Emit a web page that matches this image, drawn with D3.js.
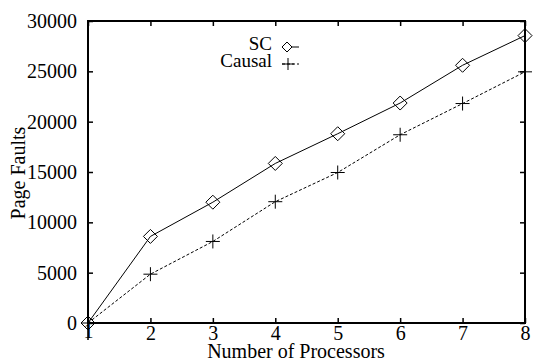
<!DOCTYPE html>
<html><head><meta charset="utf-8">
<script src="https://cdn.jsdelivr.net/npm/d3@7"></script>
<style>body{margin:0;background:#fff}svg{display:block}</style>
</head><body>
<svg id="c" width="534" height="363"></svg>
<script>
const processors = [1,2,3,4,5,6,7,8];
const scValues = [0,8600,12000,15850,18800,21850,25600,28550];
const causalValues = [0,4850,8100,12050,14950,18700,21800,24950];
const yTicks = [0,5000,10000,15000,20000,25000,30000];
const seriesNames = ["SC","Causal"];

const FF = "'Liberation Serif', 'Times New Roman', Times, 'DejaVu Serif', serif";
const svg = d3.select("#c");
const L=88,R=525,T=21,B=323;
const x = d3.scaleLinear().domain([1,8]).range([L,R]);
const y = d3.scaleLinear().domain([0,30000]).range([B,T]);
const fs = 20;

const gx = svg.append("g").attr("transform",`translate(0,${B})`)
  .call(d3.axisBottom(x).tickValues(processors).tickSize(-5).tickPadding(7).tickFormat(d3.format("d")));
const gxt = svg.append("g").attr("transform",`translate(0,${T})`)
  .call(d3.axisTop(x).tickValues(processors).tickSize(-5).tickFormat(""));
const gy = svg.append("g").attr("transform",`translate(${L},0)`)
  .call(d3.axisLeft(y).tickValues(yTicks).tickSize(-5).tickPadding(11).tickFormat(d3.format("d")));
const gyr = svg.append("g").attr("transform",`translate(${R},0)`)
  .call(d3.axisRight(y).tickValues(yTicks).tickSize(-5).tickFormat(""));
[gx,gxt,gy,gyr].forEach(g=>{
  g.attr("font-family",null).attr("font-size",null);
  g.select(".domain").remove();
  g.selectAll("line").attr("stroke","#000").attr("stroke-width",1.5);
  g.selectAll("text").attr("fill","#000").style("font-family",FF).style("font-size",fs+"px");
});
svg.append("line").attr("x1",x(1)).attr("x2",x(1)).attr("y1",B).attr("y2",B+17).attr("stroke","#000").attr("stroke-width",1.5);
gx.selectAll(".tick text").attr("dy","0.5em");
gx.selectAll(".tick").filter(d=>d===1).select("text").attr("dy","0.4em");

svg.append("rect").attr("x",L).attr("y",T).attr("width",R-L).attr("height",B-T)
  .attr("fill","none").attr("stroke","#000").attr("stroke-width",2);

const line = d3.line().x((d,i)=>x(processors[i])).y(d=>y(d));
svg.append("path").datum(scValues).attr("d",line).attr("fill","none").attr("stroke","#000").attr("stroke-width",1);
svg.append("path").datum(causalValues).attr("d",line).attr("fill","none").attr("stroke","#000").attr("stroke-width",1).attr("stroke-dasharray","3,2");

const diamond = (cx,cy,s)=>`M${cx},${cy-s}L${cx+s},${cy}L${cx},${cy+s}L${cx-s},${cy}Z`;
svg.selectAll(".sc").data(scValues).enter().append("path")
  .attr("d",(d,i)=>diamond(x(processors[i]),y(d),7)).attr("fill","none").attr("stroke","#000").attr("stroke-width",1);
const cross = (cx,cy,s)=>`M${cx-s},${cy}L${cx+s},${cy}M${cx},${cy-s}L${cx},${cy+s}`;
svg.selectAll(".ca").data(causalValues).enter().append("path")
  .attr("d",(d,i)=>cross(x(processors[i]),y(d),7)).attr("fill","none").attr("stroke","#000").attr("stroke-width",1);

const txt = (xx,yy,s,anchor,size)=>svg.append("text").attr("x",xx).attr("y",yy).attr("text-anchor",anchor)
  .style("font-family",FF).style("font-size",size+"px").attr("fill","#000").text(s);
txt(272,50,seriesNames[0],"end",19);
svg.append("line").attr("x1",282).attr("x2",299).attr("y1",47).attr("y2",47).attr("stroke","#000");
svg.append("path").attr("d",diamond(287,47,5)).attr("fill","#fff").attr("stroke","#000");
txt(272,67,seriesNames[1],"end",19);
svg.append("line").attr("x1",282).attr("x2",299).attr("y1",64).attr("y2",64).attr("stroke","#000").attr("stroke-dasharray","3,2");
svg.append("path").attr("d",cross(288,64,6)).attr("fill","none").attr("stroke","#000");

txt(296,358,"Number of Processors","middle",fs);
svg.append("text").attr("transform",`translate(25,173) rotate(-90)`).attr("text-anchor","middle")
  .style("font-family",FF).style("font-size",fs+"px").attr("fill","#000").text("Page Faults");
</script>
</body></html>
